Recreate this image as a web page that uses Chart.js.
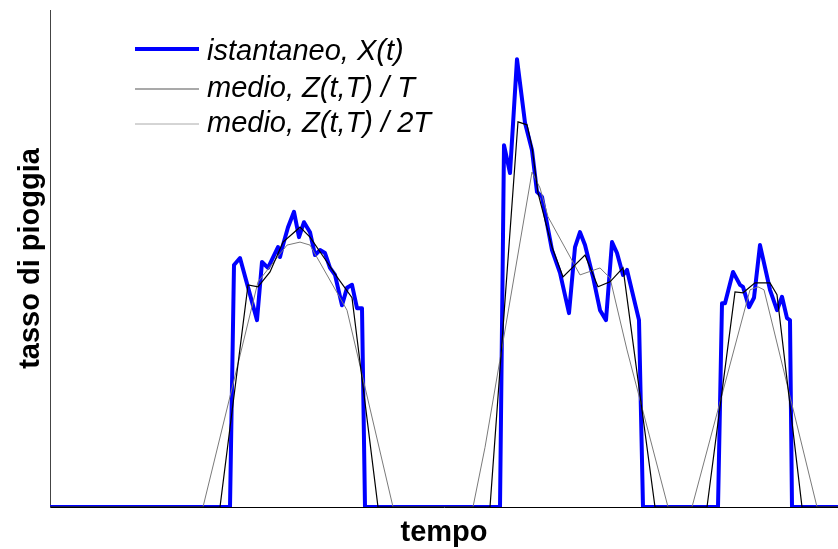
<!DOCTYPE html>
<html>
<head>
<meta charset="utf-8">
<script src="https://cdn.jsdelivr.net/npm/chart.js@4"></script>
<style>
  html, body { margin: 0; padding: 0; background: #fff; }
  #wrap { width: 838px; height: 549px; }
</style>
</head>
<body>
<div id="wrap"><canvas id="rainChart"></canvas></div>
<script>
// istantaneo X(t)
const tIst = [0, 45, 46, 47.5, 51.75, 53, 54.5, 57, 57.5, 58.25, 59.5, 61, 62.25, 63.5, 65, 66.25, 67.5, 68.75, 70, 71.25, 73, 74.25, 75.5, 76.75, 78, 78.75,
  112.5, 113.5, 115, 116.75, 118.75, 120.5, 121.75, 123, 125.5, 127.5, 129.75, 131.25, 132.5, 133.75, 135.75, 137.5, 139, 140.5, 141.75, 143.25, 144.25, 147.25, 148.25,
  167, 168, 168.75, 170.75, 172.5, 173.25, 174.75, 176, 177.5, 180, 181.75, 183, 184.25, 185, 185.5, 197];
const xIst = [0, 0, 48.7, 50.1, 37.6, 49.3, 48.1, 52.3, 50.3, 52.7, 56.3, 59.4, 54.3, 57.3, 55.3, 50.7, 51.7, 51.1, 48.1, 46.7, 40.6, 44.1, 44.7, 40.0, 40.0, 0,
  0, 72.8, 67.2, 90.1, 77.3, 71.8, 63.4, 62.4, 51.7, 47.1, 39.0, 52.3, 55.3, 52.7, 46.3, 39.6, 37.6, 53.3, 51.1, 46.7, 47.7, 37.6, 0,
  0, 41.0, 41.0, 47.3, 44.7, 44.3, 40.2, 42.1, 52.7, 43.7, 39.6, 42.3, 38.0, 37.6, 0, 0];

// medio Z(t,T)/T
const tMedT = [0, 42.5, 49.5, 52, 55, 58.25, 62.5, 65, 69.25, 71.75, 75.5, 82,
  110, 117, 119.25, 120.5, 122, 125.5, 128.25, 133.75, 137, 140, 143.25, 151.25,
  164.25, 171.25, 173.25, 176.25, 180, 181.75, 188, 197];
const zMedT = [0, 0, 44.7, 44.3, 47.3, 53.3, 56.3, 54.3, 49.3, 46.3, 42.1, 0,
  0, 77.5, 76.9, 72.4, 63.2, 52.3, 46.3, 50.7, 44.3, 45.3, 48.1, 0,
  0, 43.3, 43.1, 45.1, 45.1, 42.7, 0, 0];

// medio Z(t,T)/2T
const tMed2T = [0, 38.25, 52, 59.25, 62.5, 65, 74.25, 85.75,
  105.75, 108.75, 120.5, 122.5, 124.5, 132.5, 137.5, 140, 144.25, 154.5,
  160.5, 175, 177, 178.5, 191.75, 197];
const zMed2T = [0, 0, 45.3, 52.7, 53.3, 52.7, 39.6, 0,
  0, 12, 67.4, 64.2, 58.4, 46.7, 48.1, 46.1, 31.6, 0,
  0, 43.7, 44.3, 43.7, 0, 0];

const seriesLabels = ['istantaneo, X(t)', 'medio, Z(t,T) / T', 'medio, Z(t,T) / 2T'];

const toPoints = (ts, vs) => ts.map((t, i) => ({ x: t, y: vs[i] }));

// legend drawn inside the plot, top-left
const innerLegend = {
  id: 'innerLegend',
  afterDatasetsDraw(chart) {
    const ctx = chart.ctx;
    const rows = [{ line: 49, text: 60 }, { line: 89, text: 97 }, { line: 124, text: 132 }];
    const sampleColors = ['#0000ff', '#555555', '#aaaaaa'];
    ctx.save();
    ctx.font = 'italic 29px "Liberation Sans", Arial, sans-serif';
    ctx.textBaseline = 'alphabetic';
    ctx.fillStyle = '#000';
    chart.data.datasets.forEach((ds, i) => {
      const r = rows[i];
      ctx.strokeStyle = sampleColors[i];
      ctx.lineWidth = ds.borderWidth;
      ctx.beginPath();
      ctx.moveTo(135, r.line);
      ctx.lineTo(199, r.line);
      ctx.stroke();
      ctx.fillText(ds.label, 207, r.text);
    });
    ctx.restore();
  }
};

new Chart(document.getElementById('rainChart'), {
  type: 'line',
  data: {
    datasets: [{
      label: seriesLabels[0],
      data: toPoints(tIst, xIst),
      borderColor: '#0000ff',
      borderWidth: 4,
      borderJoinStyle: 'round',
      pointRadius: 0,
      tension: 0,
      order: 3
    }, {
      label: seriesLabels[1],
      data: toPoints(tMedT, zMedT),
      borderColor: '#000000',
      borderWidth: 1.2,
      pointRadius: 0,
      tension: 0,
      order: 1
    }, {
      label: seriesLabels[2],
      data: toPoints(tMed2T, zMed2T),
      borderColor: '#7a7a7a',
      borderWidth: 1,
      pointRadius: 0,
      tension: 0,
      order: 2
    }]
  },
  options: {
    responsive: true,
    maintainAspectRatio: false,
    animation: false,
    layout: { padding: { top: 10, left: 0, right: 0, bottom: 0 } },
    plugins: {
      legend: { display: false },
      tooltip: { enabled: false }
    },
    scales: {
      x: {
        type: 'linear',
        min: 0,
        max: 197,
        grid: { display: false, drawTicks: false },
        ticks: { display: false },
        border: { display: true, color: '#000', width: 1 },
        title: {
          display: true,
          text: 'tempo',
          color: '#000',
          font: { family: '"Liberation Sans", Arial, sans-serif', size: 29, weight: 'bold', lineHeight: 1 },
          padding: { top: 11.5, bottom: 1.5 }
        }
      },
      y: {
        min: 0,
        max: 100,
        grid: { display: false, drawTicks: false },
        ticks: { display: false },
        border: { display: true, color: '#444', width: 1 },
        title: {
          display: true,
          text: 'tasso di pioggia',
          color: '#000',
          font: { family: '"Liberation Sans", Arial, sans-serif', size: 29, weight: 'bold', lineHeight: 1 },
          padding: { top: 16.5, bottom: 4.5 }
        }
      }
    }
  },
  plugins: [innerLegend]
});
</script>
</body>
</html>
